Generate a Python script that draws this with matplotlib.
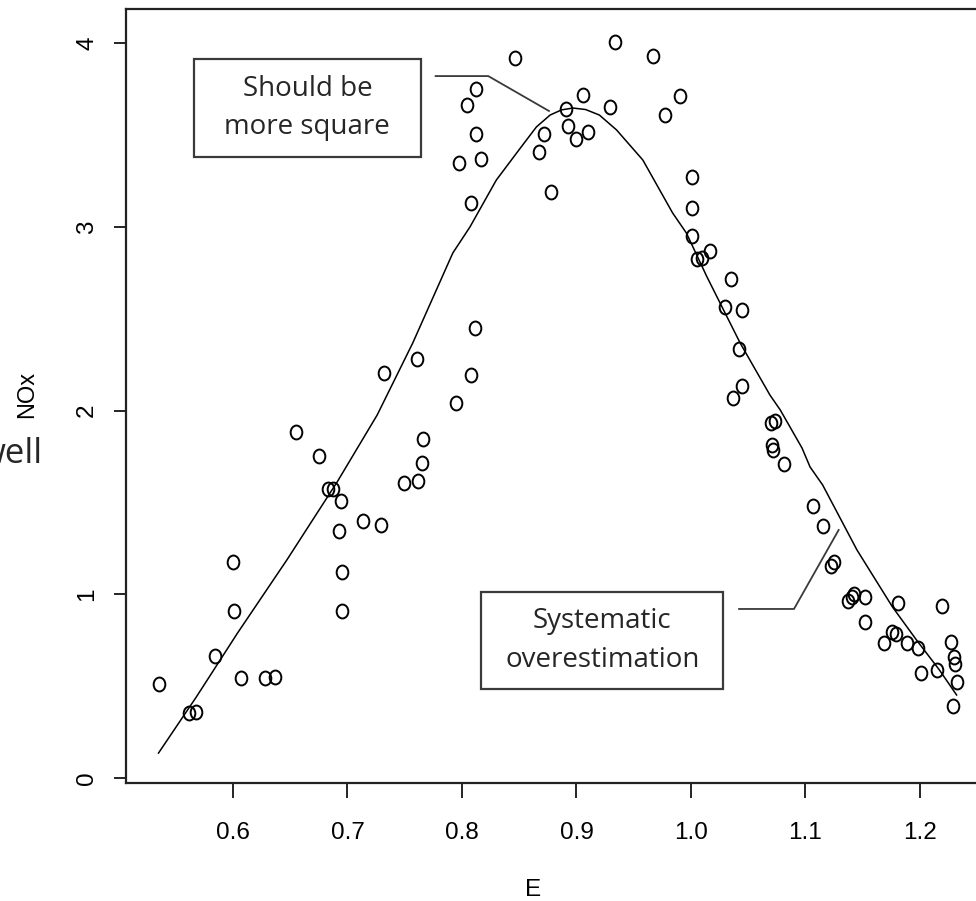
import numpy as np
import matplotlib
matplotlib.use("Agg")
import matplotlib.pyplot as plt
from matplotlib.path import Path
from matplotlib.patches import Rectangle

# observed points (E, NOx)
E = [0.535, 0.562, 0.568, 0.584, 0.600, 0.601, 0.607, 0.628, 0.637, 0.655,
     0.675, 0.683, 0.687, 0.694, 0.693, 0.695, 0.695, 0.714, 0.729, 0.732,
     0.749, 0.762, 0.761, 0.765, 0.766, 0.795, 0.808, 0.811, 0.808, 0.797,
     0.817, 0.812, 0.804, 0.812, 0.846, 0.867, 0.872, 0.878, 0.891, 0.893,
     0.900, 0.910, 0.906, 0.929, 0.934, 0.967, 0.977, 0.990, 1.001, 1.001,
     1.001, 1.005, 1.010, 1.017, 1.035, 1.030, 1.045, 1.042, 1.045, 1.037,
     1.070, 1.073, 1.071, 1.072, 1.081, 1.107, 1.115, 1.125, 1.122, 1.142,
     1.141, 1.137, 1.152, 1.152, 1.181, 1.219, 1.176, 1.179, 1.169, 1.189,
     1.198, 1.201, 1.215, 1.227, 1.230, 1.231, 1.232, 1.229]
NOx = [0.512, 0.354, 0.359, 0.664, 1.176, 0.909, 0.544, 0.544, 0.550, 1.883,
       1.752, 1.573, 1.573, 1.507, 1.344, 1.121, 0.909, 1.399, 1.377, 2.204,
       1.605, 1.616, 2.280, 1.714, 1.845, 2.041, 2.193, 2.449, 3.129, 3.347,
       3.369, 3.505, 3.663, 3.750, 3.918, 3.407, 3.505, 3.189, 3.641, 3.548,
       3.478, 3.516, 3.717, 3.652, 4.005, 3.929, 3.608, 3.712, 3.271, 3.102,
       2.950, 2.824, 2.830, 2.868, 2.716, 2.563, 2.547, 2.335, 2.133, 2.068,
       1.932, 1.943, 1.812, 1.785, 1.709, 1.480, 1.371, 1.176, 1.154, 1.001,
       0.985, 0.963, 0.985, 0.849, 0.952, 0.936, 0.795, 0.784, 0.735, 0.735,
       0.707, 0.571, 0.588, 0.740, 0.659, 0.620, 0.522, 0.392]

# smooth fit
fit_E = [0.535, 0.568, 0.604, 0.647, 0.691, 0.726, 0.757, 0.792, 0.807, 0.830,
         0.850, 0.865, 0.877, 0.887, 0.897, 0.908, 0.920, 0.935, 0.958, 0.984,
         0.996, 1.014, 1.043, 1.069, 1.078, 1.097, 1.104, 1.115, 1.145, 1.176,
         1.197, 1.217, 1.232]
fit_NOx = [0.136, 0.441, 0.789, 1.186, 1.611, 1.976, 2.367, 2.857, 2.999, 3.254,
           3.420, 3.543, 3.608, 3.636, 3.646, 3.638, 3.608, 3.527, 3.363, 3.075,
           2.966, 2.727, 2.367, 2.084, 2.003, 1.796, 1.693, 1.595, 1.241, 0.931,
           0.751, 0.588, 0.452]

xticks = [0.6, 0.7, 0.8, 0.9, 1.0, 1.1, 1.2]
xtick_labels = ["0.6", "0.7", "0.8", "0.9", "1.0", "1.1", "1.2"]
yticks = [0, 1, 2, 3, 4]

note_top = "Should be\nmore square"
note_bottom = "Systematic\noverestimation"

W, H = 976, 901
fig = plt.figure(figsize=(W / 100, H / 100), dpi=100)
ax = fig.add_axes([126 / W, 1 - 783 / H, (989 - 126) / W, (783 - 9) / H])
ax.set_xlim(0.5066, 1.2603)
ax.set_ylim(-0.027, 4.185)

# letter-o shaped marker (slightly taller than wide)
circ = Path.unit_circle()
omark = Path(circ.vertices * np.array([0.84, 1.0]), circ.codes)

ax.plot(fit_E, fit_NOx, color="black", lw=1.1)
ax.plot(E, NOx, linestyle="none", marker=omark, markersize=10,
        markerfacecolor="none", markeredgecolor="black", markeredgewidth=1.4)

for s in ["left", "bottom", "top"]:
    ax.spines[s].set_linewidth(1.6)
    ax.spines[s].set_color("#222222")
ax.spines["right"].set_visible(False)

ax.set_xticks(xticks)
ax.set_xticklabels(xtick_labels)
ax.set_yticks(yticks)
ax.set_yticklabels([str(v) for v in yticks], rotation=90, va="center")
ax.tick_params(axis="x", length=11, width=1.2, pad=17, labelsize=17.5)
ax.tick_params(axis="y", length=9, width=1.2, pad=11, labelsize=17.5)
for lab in ax.get_xticklabels() + ax.get_yticklabels():
    lab.set_family("Liberation Sans")

fig.text(533 / W, 1 - 890 / H, "E", ha="center", va="center",
         fontsize=17.5, family="Liberation Sans")
fig.text(27 / W, 1 - 394 / H, "NOx", ha="center", va="center", rotation=90,
         fontsize=17, family="Liberation Sans")
# fragment of slide text, clipped by the left edge
fig.text(43 / W, 1 - 463 / H, "well", ha="right", va="baseline",
         fontsize=25, family="Open Sans", color="#262626")

# annotation boxes and leader lines
gray = "#3a3a3a"
ax.add_patch(Rectangle((0.566, 3.380), 0.198, 0.533, fill=False,
                       edgecolor=gray, lw=1.6, clip_on=False))
ax.text(0.665, 3.646, note_top, ha="center", va="center", fontsize=20,
        family="Open Sans", color="#262626", linespacing=1.5)
ax.plot([0.777, 0.823, 0.876], [3.82, 3.82, 3.63], color=gray, lw=1.3)

ax.add_patch(Rectangle((0.817, 0.484), 0.211, 0.528, fill=False,
                       edgecolor=gray, lw=1.6, clip_on=False))
ax.text(0.9225, 0.748, note_bottom, ha="center", va="center", fontsize=20,
        family="Open Sans", color="#262626", linespacing=1.5)
ax.plot([1.042, 1.090, 1.129], [0.92, 0.92, 1.35], color=gray, lw=1.3)

fig.savefig("out.png", dpi=100)
